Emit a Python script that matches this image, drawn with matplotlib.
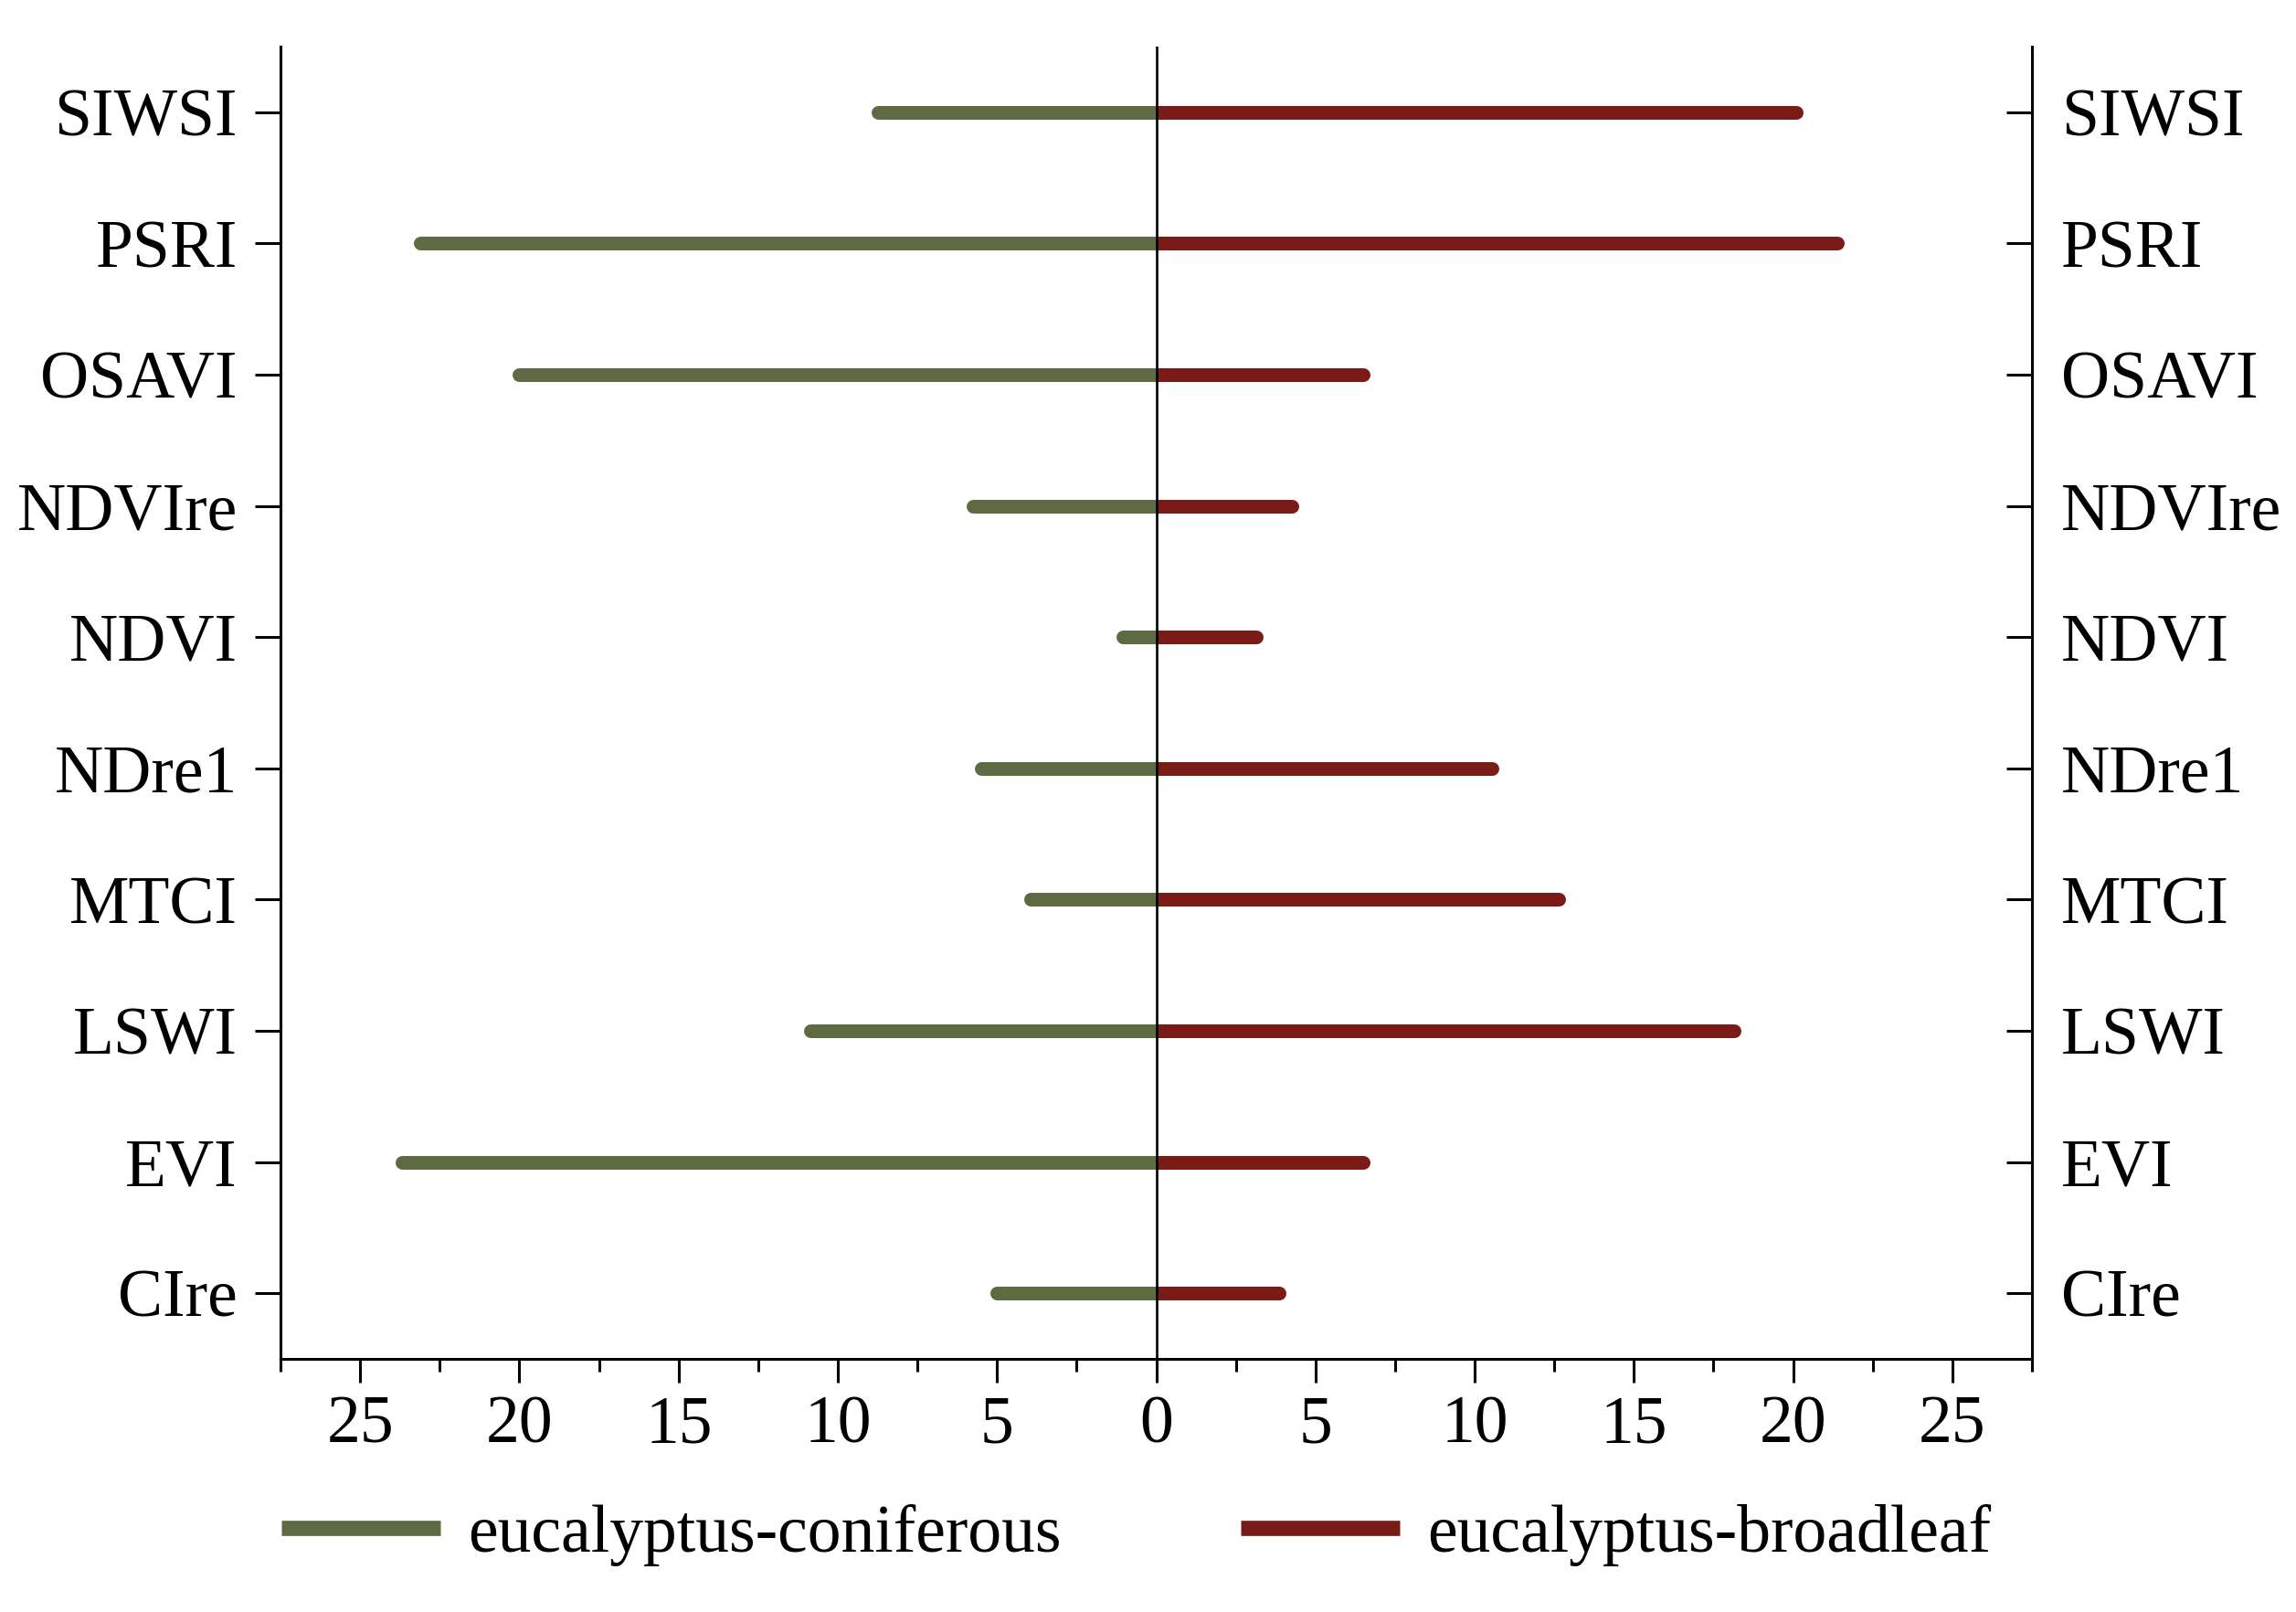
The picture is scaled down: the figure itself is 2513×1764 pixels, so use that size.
import matplotlib
matplotlib.use("Agg")
import matplotlib.pyplot as plt
from matplotlib.ticker import MultipleLocator, FuncFormatter
from matplotlib.patches import Rectangle
from matplotlib.lines import Line2D

plt.rcParams['font.family'] = ['Liberation Serif', 'DejaVu Serif']

# Data (bottom to top)
categories = ["CIre", "EVI", "LSWI", "MTCI", "NDre1", "NDVI", "NDVIre", "OSAVI", "PSRI", "SIWSI"]
coniferous = [5.0, 23.7, 10.85, 3.95, 5.5, 1.05, 5.75, 20.0, 23.1, 8.75]
broadleaf = [3.85, 6.5, 18.15, 12.65, 10.55, 3.15, 4.25, 6.5, 21.4, 20.1]
series_labels = ["eucalyptus-coniferous", "eucalyptus-broadleaf"]
x_ticks = [-25, -20, -15, -10, -5, 0, 5, 10, 15, 20, 25]

green = "#5d6a42"
red = "#7a1b17"
FS = 53

fig = plt.figure(figsize=(25.13, 17.64), dpi=100)
ax = fig.add_axes([0.1222, 0.157, 0.7628, 0.8141])
ax.set_xlim(-27.5, 27.5)
ax.set_ylim(-0.5, len(categories) - 0.5)

ypos = list(range(len(categories)))
left_clip = Rectangle((-100, -100), 100, 200, transform=ax.transData)
right_clip = Rectangle((0, -100), 100, 200, transform=ax.transData)

for y, v in zip(ypos, coniferous):
    ln, = ax.plot([0, -v], [y, y], color=green, lw=10.8, solid_capstyle='round', zorder=2)
    ln.set_clip_path(left_clip)
for y, v in zip(ypos, broadleaf):
    ln, = ax.plot([0, v], [y, y], color=red, lw=10.8, solid_capstyle='round', zorder=2)
    ln.set_clip_path(right_clip)

ax.axvline(0, color='black', lw=1.9, zorder=3)

for s in ['left', 'right', 'bottom']:
    ax.spines[s].set_linewidth(2.2)
ax.spines['top'].set_visible(False)

ax.set_xticks(x_ticks)
ax.xaxis.set_major_formatter(FuncFormatter(lambda v, p: f"{abs(int(round(v)))}"))
ax.xaxis.set_minor_locator(MultipleLocator(2.5))
ax.tick_params(axis='x', which='major', direction='out', length=19, width=2.2, pad=10, labelsize=FS)
ax.tick_params(axis='x', which='minor', direction='out', length=10, width=2.2)

ax.set_yticks(ypos)
ax.set_yticklabels(categories)
ax.tick_params(axis='y', which='major', direction='out', length=20, width=2.2, pad=14, labelsize=FS,
               left=True, right=False)

ax2 = ax.twinx()
ax2.set_ylim(ax.get_ylim())
ax2.set_yticks(ypos)
ax2.set_yticklabels(categories)
ax2.tick_params(axis='y', which='major', direction='in', length=20, width=2.2, pad=23, labelsize=FS)
for s in ['left', 'right', 'bottom', 'top']:
    ax2.spines[s].set_visible(False)

handles = [Line2D([0], [0], color=green, lw=12, solid_capstyle='butt'),
           Line2D([0], [0], color=red, lw=12, solid_capstyle='butt')]
fig.legend(handles, series_labels, loc='center', bbox_to_anchor=(0.495, 0.0476), ncol=2,
           frameon=False, fontsize=FS, handlelength=2.36, handletextpad=0.41, columnspacing=2.67,
           borderpad=0, borderaxespad=0)

fig.savefig("out.png", dpi=100, facecolor='white')
